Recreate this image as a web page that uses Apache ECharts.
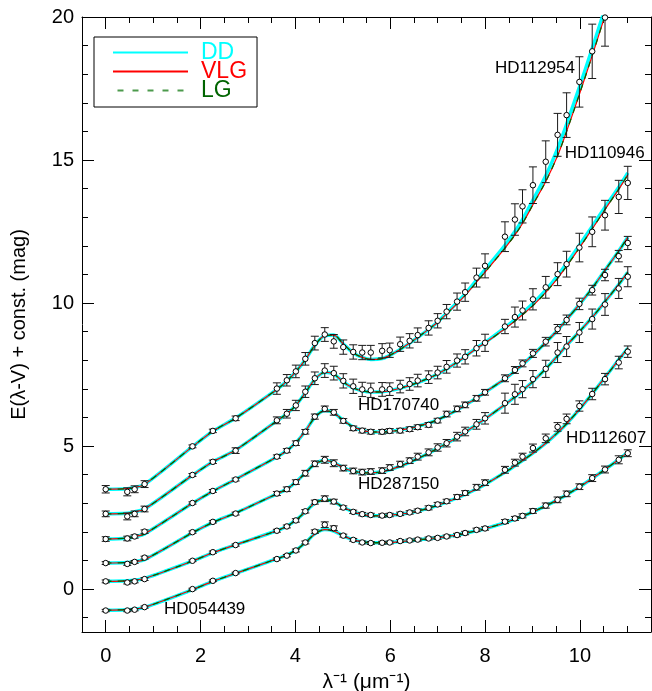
<!DOCTYPE html>
<html>
<head>
<meta charset="utf-8">
<script src="https://cdn.jsdelivr.net/npm/echarts@6/dist/echarts.min.js"></script>
<style>
  html, body { margin: 0; padding: 0; background: #fff; }
  #chart { width: 652px; height: 691px; }
</style>
</head>
<body>
<div id="chart"></div>
<script>
// Wavenumbers (1/micron) of the photometric and UV spectral points
const waveNumber = [0, 0.455, 0.61, 0.82, 1.83, 2.26, 2.74, 3.61, 3.82, 4.01, 4.21, 4.41, 4.62, 4.81,
  5.01, 5.22, 5.41, 5.59, 5.83, 5.99, 6.21, 6.41, 6.58, 6.81, 7.0, 7.19, 7.41, 7.58, 7.82,
  8.0, 8.42, 8.63, 8.79, 9.01, 9.28, 9.53, 9.72, 9.99, 10.26, 10.53, 10.82, 11.01];

// Observed E(lambda-V) + offset, one array per star
const obs_HD112954 = [3.49, 3.40, 3.49, 3.67, 4.99, 5.53, 5.97, 7.01, 7.30, 7.61, 8.05, 8.60, 8.90, 8.66,
  8.46, 8.29, 8.27, 8.27, 8.33, 8.35, 8.56, 8.68, 8.88, 9.13, 9.38, 9.70, 10.05, 10.38, 10.89,
  11.30, 12.32, 12.92, 13.38, 14.12, 14.94, 15.88, 16.57, 17.73, 18.80, 19.98, null, null];
const obs_HD110946 = [2.63, 2.54, 2.63, 2.80, 3.99, 4.45, 4.84, 5.90, 6.13, 6.42, 6.90, 7.37, 7.64, 7.55,
  7.28, 7.09, 6.98, 6.95, 6.98, 6.99, 7.08, 7.17, 7.29, 7.41, 7.57, 7.77, 7.99, 8.12, 8.42,
  8.61, 9.18, 9.51, 9.74, 10.13, 10.55, 11.01, 11.36, 11.94, 12.49, 13.07, 13.71, 14.20];
const obs_HD170740 = [1.75, 1.77, 1.84, 2.01, 3.01, 3.43, 3.83, 4.63, 4.84, 5.10, 5.50, 6.03, 6.30, 6.18,
  5.88, 5.62, 5.54, 5.50, 5.50, 5.53, 5.54, 5.59, 5.66, 5.74, 5.89, 6.12, 6.30, 6.44, 6.67,
  6.88, 7.37, 7.66, 7.89, 8.24, 8.65, 9.09, 9.41, 9.97, 10.45, 10.98, 11.64, 12.10];
const obs_HD287150 = [0.91, 0.88, 0.95, 1.10, 1.99, 2.35, 2.64, 3.34, 3.49, 3.74, 4.05, 4.38, 4.52, 4.40,
  4.23, 4.13, 4.09, 4.11, 4.14, 4.25, 4.37, 4.49, 4.63, 4.78, 4.95, 5.10, 5.33, 5.51, 5.76,
  5.97, 6.50, 6.81, 6.99, 7.34, 7.70, 8.27, 8.48, 8.97, 9.44, 9.95, 10.51, 10.92];
const obs_HD112607 = [0.27, 0.23, 0.27, 0.35, 0.99, 1.29, 1.54, 2.04, 2.19, 2.40, 2.72, 3.04, 3.16, 3.06,
  2.85, 2.70, 2.62, 2.59, 2.57, 2.59, 2.63, 2.68, 2.74, 2.84, 2.96, 3.07, 3.22, 3.36, 3.56,
  3.72, 4.17, 4.42, 4.63, 4.93, 5.27, 5.67, 5.95, 6.40, 6.82, 7.34, 7.92, 8.30];
const obs_HD054439 = [-0.75, -0.75, -0.72, -0.63, 0.00, 0.29, 0.56, 1.05, 1.17, 1.35, 1.63, 2.01, 2.25, 2.13,
  1.87, 1.72, 1.63, 1.61, 1.62, 1.63, 1.68, 1.70, 1.73, 1.77, 1.79, 1.84, 1.89, 1.96, 2.07,
  2.12, 2.36, 2.47, 2.56, 2.73, 2.92, 3.12, 3.33, 3.58, 3.88, 4.18, 4.52, 4.75];

// One-sigma uncertainties of the observed points
const err_HD112954 = [0.13, 0.14, 0.12, 0.12, 0.05, 0.06, 0.08, 0.20, 0.20, 0.22, 0.22, 0.24, 0.24, 0.24,
  0.25, 0.25, 0.25, 0.25, 0.25, 0.25, 0.25, 0.25, 0.25, 0.25, 0.25, 0.25, 0.30, 0.32, 0.33,
  0.42, 0.52, 0.55, 0.58, 0.64, 0.73, 0.75, 0.78, 0.88, 0.95, 1.00, null, null];
const err_HD110946 = [0.10, 0.12, 0.10, 0.10, 0.05, 0.06, 0.10, 0.12, 0.15, 0.18, 0.20, 0.22, 0.24, 0.24,
  0.25, 0.25, 0.25, 0.25, 0.24, 0.22, 0.22, 0.22, 0.22, 0.22, 0.22, 0.22, 0.23, 0.25, 0.27,
  0.30, 0.25, 0.35, 0.33, 0.37, 0.38, 0.40, 0.45, 0.50, 0.52, 0.52, 0.58, 0.58];
const err_HD170740 = [0.08, 0.08, 0.06, 0.06, 0.04, 0.05, 0.05, 0.06, 0.07, 0.08, 0.08, 0.09, 0.10, 0.10,
  0.08, 0.08, 0.08, 0.08, 0.08, 0.08, 0.08, 0.08, 0.08, 0.08, 0.08, 0.10, 0.10, 0.10, 0.10,
  0.10, 0.12, 0.12, 0.12, 0.14, 0.15, 0.16, 0.17, 0.20, 0.17, 0.20, 0.20, 0.23];
const err_HD287150 = [0.05, 0.05, 0.05, 0.05, 0.04, 0.04, 0.05, 0.07, 0.08, 0.08, 0.10, 0.10, 0.12, 0.12,
  0.10, 0.10, 0.10, 0.10, 0.10, 0.10, 0.10, 0.10, 0.12, 0.12, 0.13, 0.13, 0.15, 0.15, 0.17,
  0.20, 0.35, 0.35, 0.30, 0.30, 0.30, 0.35, 0.35, 0.35, 0.35, 0.38, 0.35, 0.35];
const err_HD112607 = [0.05, 0.05, 0.05, 0.05, 0.03, 0.04, 0.04, 0.05, 0.05, 0.06, 0.06, 0.07, 0.10, 0.08,
  0.06, 0.06, 0.06, 0.06, 0.06, 0.06, 0.06, 0.06, 0.06, 0.07, 0.07, 0.07, 0.08, 0.08, 0.10,
  0.10, 0.12, 0.12, 0.12, 0.14, 0.15, 0.15, 0.17, 0.18, 0.20, 0.20, 0.22, 0.20];
const err_HD054439 = [0.04, 0.04, 0.04, 0.04, 0.03, 0.03, 0.03, 0.04, 0.04, 0.05, 0.05, 0.06, 0.10, 0.08,
  0.05, 0.05, 0.05, 0.05, 0.05, 0.05, 0.05, 0.05, 0.05, 0.05, 0.05, 0.05, 0.06, 0.06, 0.06,
  0.06, 0.07, 0.07, 0.07, 0.08, 0.09, 0.10, 0.10, 0.10, 0.12, 0.12, 0.14, 0.12];

// Dust-model fits (DD) sampled at the same wavenumbers
const ddFit_HD112954 = [3.49, 3.51, 3.55, 3.66, 4.98, 5.52, 5.98, 6.98, 7.27, 7.60, 8.02, 8.52, 8.86, 8.88,
  8.57, 8.26, 8.10, 8.03, 8.06, 8.17, 8.38, 8.60, 8.80, 9.08, 9.34, 9.65, 10.02, 10.32, 10.80,
  11.17, 12.02, 12.50, 12.92, 13.60, 14.45, 15.40, 16.25, 17.55, 18.90, 20.30, 21.80, 22.80];
const ddFit_HD110946 = [2.63, 2.65, 2.70, 2.80, 3.98, 4.45, 4.86, 5.88, 6.13, 6.42, 6.86, 7.33, 7.58, 7.52,
  7.24, 7.03, 6.93, 6.89, 6.90, 6.94, 7.02, 7.12, 7.22, 7.37, 7.52, 7.70, 7.93, 8.13, 8.43,
  8.62, 9.14, 9.42, 9.65, 9.98, 10.45, 10.95, 11.38, 12.02, 12.68, 13.35, 14.05, 14.55];
const ddFit_HD170740 = [1.75, 1.78, 1.83, 1.93, 3.00, 3.42, 3.84, 4.62, 4.84, 5.12, 5.52, 6.00, 6.24, 6.16,
  5.90, 5.67, 5.55, 5.50, 5.49, 5.51, 5.56, 5.62, 5.69, 5.80, 5.92, 6.07, 6.26, 6.43, 6.68,
  6.88, 7.35, 7.62, 7.85, 8.18, 8.62, 9.05, 9.42, 9.95, 10.52, 11.15, 11.82, 12.30];
const ddFit_HD287150 = [0.91, 0.93, 0.96, 1.03, 1.97, 2.33, 2.66, 3.33, 3.50, 3.74, 4.06, 4.37, 4.50, 4.42,
  4.24, 4.12, 4.07, 4.06, 4.10, 4.17, 4.30, 4.43, 4.56, 4.75, 4.92, 5.09, 5.30, 5.48, 5.75,
  5.95, 6.45, 6.72, 6.94, 7.26, 7.70, 8.15, 8.52, 9.00, 9.50, 10.05, 10.65, 11.08];
const ddFit_HD112607 = [0.27, 0.29, 0.31, 0.37, 0.98, 1.27, 1.55, 2.04, 2.20, 2.41, 2.70, 3.00, 3.12, 3.06,
  2.86, 2.70, 2.61, 2.57, 2.56, 2.58, 2.62, 2.67, 2.73, 2.83, 2.93, 3.04, 3.19, 3.31, 3.50,
  3.66, 4.08, 4.31, 4.49, 4.75, 5.10, 5.47, 5.78, 6.28, 6.83, 7.40, 8.02, 8.42];
const ddFit_HD054439 = [-0.74, -0.72, -0.70, -0.64, -0.02, 0.27, 0.55, 1.06, 1.19, 1.36, 1.62, 1.93, 2.08, 2.03,
  1.86, 1.72, 1.65, 1.62, 1.62, 1.63, 1.66, 1.69, 1.72, 1.76, 1.80, 1.84, 1.89, 1.95, 2.04,
  2.11, 2.32, 2.44, 2.54, 2.70, 2.91, 3.12, 3.30, 3.57, 3.87, 4.18, 4.53, 4.78];

// VLG fits where they separate from the DD curve in the far UV
const vlgFit_HD112954 = [3.49, 3.51, 3.55, 3.66, 4.98, 5.52, 5.98, 6.98, 7.27, 7.60, 8.02, 8.52, 8.86, 8.88,
  8.57, 8.26, 8.10, 8.03, 8.06, 8.17, 8.38, 8.60, 8.80, 9.08, 9.33, 9.62, 9.98, 10.27, 10.73,
  11.08, 11.92, 12.38, 12.78, 13.44, 14.25, 15.15, 16.00, 17.30, 18.65, 20.05, 21.55, 22.55];
const vlgFit_HD110946 = [2.63, 2.65, 2.70, 2.80, 3.98, 4.45, 4.86, 5.88, 6.13, 6.42, 6.86, 7.33, 7.58, 7.52,
  7.24, 7.03, 6.93, 6.89, 6.90, 6.94, 7.02, 7.12, 7.22, 7.37, 7.52, 7.70, 7.93, 8.12, 8.41,
  8.60, 9.10, 9.37, 9.59, 9.91, 10.37, 10.86, 11.29, 11.93, 12.59, 13.27, 13.98, 14.48];
// For the remaining stars the VLG and LG fits lie on top of the DD fit
const vlgFit_HD170740 = ddFit_HD170740;
const vlgFit_HD287150 = ddFit_HD287150;
const vlgFit_HD112607 = ddFit_HD112607;
const vlgFit_HD054439 = ddFit_HD054439;

// Star names and where their names are written (data units, left end of text)
const starNames = ['HD112954', 'HD110946', 'HD170740', 'HD287150', 'HD112607', 'HD054439'];
const starLabelX = [8.21, 9.68, 5.32, 5.32, 9.71, 1.23];
const starLabelY = [18.2, 15.24, 6.42, 3.68, 5.28, -0.69];

// Axis ticks
const xMajorTicks = [0, 2, 4, 6, 8, 10];
const xMinorTicks = [0.5, 1, 1.5, 2.5, 3, 3.5, 4.5, 5, 5.5, 6.5, 7, 7.5, 8.5, 9, 9.5, 10.5, 11];
const yMajorTicks = [0, 5, 10, 15, 20];
const yMinorTicks = [-1, 1, 2, 3, 4, 6, 7, 8, 9, 11, 12, 13, 14, 16, 17, 18, 19];

const observed = [obs_HD112954, obs_HD110946, obs_HD170740, obs_HD287150, obs_HD112607, obs_HD054439];
const errors = [err_HD112954, err_HD110946, err_HD170740, err_HD287150, err_HD112607, err_HD054439];
const ddFits = [ddFit_HD112954, ddFit_HD110946, ddFit_HD170740, ddFit_HD287150, ddFit_HD112607, ddFit_HD054439];
const vlgFits = [vlgFit_HD112954, vlgFit_HD110946, vlgFit_HD170740, vlgFit_HD287150, vlgFit_HD112607, vlgFit_HD054439];

const FONT = 'Liberation Sans, Arial, Helvetica, sans-serif';
const X_MIN = -0.5, X_MAX = 11.5, Y_MIN = -1.5, Y_MAX = 20;

const CYAN = '#00ffff', RED = '#ff0000', GREEN = '#006400';
// Legend swatches: solid bars for DD / VLG, a row of dashes for LG
const SOLID_ICON = 'path://M0,0H75V2H0Z';
const DASH_ICON = 'path://M0,0H6V2H0Z M15,0H21V2H15Z M30,0H36V2H30Z M45,0H51V2H45Z M60,0H66V2H60Z';

function pairs(values) {
  const out = [];
  waveNumber.forEach((x, i) => { if (values[i] !== null) out.push([x, values[i]]); });
  return out;
}
function errTriples(values, errs) {
  const out = [];
  waveNumber.forEach((x, i) => { if (values[i] !== null) out.push([x, values[i], errs[i]]); });
  return out;
}

// Vertical error bar with short caps
function renderErrorBar(params, api) {
  const x = api.value(0), y = api.value(1), e = api.value(2);
  const hi = api.coord([x, y + e]);
  const lo = api.coord([x, y - e]);
  const hw = 4;
  const st = { stroke: '#1a1a1a', lineWidth: 1 };
  return {
    type: 'group',
    children: [
      { type: 'line', shape: { x1: hi[0], y1: hi[1], x2: lo[0], y2: lo[1] }, style: st },
      { type: 'line', shape: { x1: hi[0] - hw, y1: hi[1], x2: hi[0] + hw, y2: hi[1] }, style: st },
      { type: 'line', shape: { x1: lo[0] - hw, y1: lo[1], x2: lo[0] + hw, y2: lo[1] }, style: st }
    ]
  };
}

const series = [];
starNames.forEach((name, k) => {
  series.push({
    type: 'line', name: 'DD', data: pairs(ddFits[k]), symbol: 'none', smooth: 0.3,
    lineStyle: { color: CYAN, width: 3.5 }, itemStyle: { color: CYAN },
    z: 2, silent: true, animation: false
  });
  series.push({
    type: 'line', name: 'VLG', data: pairs(vlgFits[k]), symbol: 'none', smooth: 0.3,
    lineStyle: { color: RED, width: 1.2 }, itemStyle: { color: RED },
    z: 3, silent: true, animation: false
  });
  series.push({
    type: 'line', name: 'LG', data: pairs(vlgFits[k]), symbol: 'none', smooth: 0.3,
    lineStyle: { color: GREEN, width: 1.3, type: [6, 6] }, itemStyle: { color: GREEN },
    z: 4, silent: true, animation: false
  });
  series.push({
    type: 'custom', data: errTriples(observed[k], errors[k]), renderItem: renderErrorBar,
    clip: true, z: 5, silent: true, animation: false
  });
  series.push({
    type: 'scatter', data: pairs(observed[k]), symbol: 'circle', symbolSize: 5.5,
    itemStyle: { color: '#ffffff', borderColor: '#000000', borderWidth: 1, opacity: 1 },
    z: 6, silent: true, animation: false
  });
});

series.push({
  type: 'scatter', symbolSize: 0, silent: true, animation: false, z: 7,
  itemStyle: { opacity: 1 },
  data: starNames.map((n, k) => ({ name: n, value: [starLabelX[k], starLabelY[k]] })),
  label: { show: true, position: 'right', distance: 0, formatter: '{b}',
           fontSize: 17, color: '#000000', fontFamily: FONT }
});

const lineBlack = { color: '#000', width: 1 };

function xAx(pos, ticks, len, withLabels, showLine) {
  const a = {
    type: 'value', position: pos, min: X_MIN, max: X_MAX, gridIndex: 0,
    splitLine: { show: false },
    axisLine: { show: showLine, onZero: false, lineStyle: lineBlack },
    axisTick: { show: true, inside: true, length: len, customValues: ticks, lineStyle: lineBlack },
    axisLabel: { show: withLabels, customValues: ticks, fontSize: 20, color: '#000', margin: 14, fontFamily: FONT }
  };
  if (withLabels) {
    a.name = 'λ⁻¹ (μm⁻¹)';
    a.nameLocation = 'middle';
    a.nameGap = 40;
    a.nameTextStyle = { fontSize: 21, color: '#000', fontFamily: FONT };
  }
  return a;
}
function yAx(pos, ticks, len, withLabels, showLine) {
  const a = {
    type: 'value', position: pos, min: Y_MIN, max: Y_MAX, gridIndex: 0,
    splitLine: { show: false },
    axisLine: { show: showLine, onZero: false, lineStyle: lineBlack },
    axisTick: { show: true, inside: true, length: len, customValues: ticks, lineStyle: lineBlack },
    axisLabel: { show: withLabels, customValues: ticks, fontSize: 20, color: '#000', margin: 8, fontFamily: FONT }
  };
  if (withLabels) {
    a.name = 'E(λ-V) + const. (mag)';
    a.nameLocation = 'middle';
    a.nameGap = 53;
    a.nameRotate = 90;
    a.nameTextStyle = { fontSize: 20, color: '#000', fontFamily: FONT };
  }
  return a;
}

const chart = echarts.init(document.getElementById('chart'), null, { renderer: 'canvas' });
chart.setOption({
  backgroundColor: '#ffffff',
  animation: false,
  grid: { left: 82, right: 1, top: 17, bottom: 59, containLabel: false, outerBoundsMode: 'none' },
  xAxis: [
    xAx('bottom', xMajorTicks, 12, true, true),
    xAx('bottom', xMinorTicks, 6, false, false),
    xAx('top', xMajorTicks, 12, false, true),
    xAx('top', xMinorTicks, 6, false, false)
  ],
  yAxis: [
    yAx('left', yMajorTicks, 12, true, true),
    yAx('left', yMinorTicks, 6, false, false),
    yAx('right', yMajorTicks, 12, false, true),
    yAx('right', yMinorTicks, 6, false, false)
  ],
  legend: {
    left: 94, top: 37, orient: 'vertical', selectedMode: false,
    padding: [4, 10, 5, 19], itemGap: -4, itemWidth: 75, itemHeight: 2,
    borderColor: '#000', borderWidth: 1, backgroundColor: '#ffffff',
    textStyle: { fontSize: 23, fontFamily: FONT, padding: [0, 0, 0, 8] },
    data: [
      { name: 'DD', icon: SOLID_ICON, itemStyle: { color: CYAN }, textStyle: { color: CYAN } },
      { name: 'VLG', icon: SOLID_ICON, itemStyle: { color: RED }, textStyle: { color: RED } },
      { name: 'LG', icon: DASH_ICON, itemStyle: { color: '#4c9a4c' }, textStyle: { color: GREEN } }
    ]
  },
  series: series
});
</script>
</body>
</html>
